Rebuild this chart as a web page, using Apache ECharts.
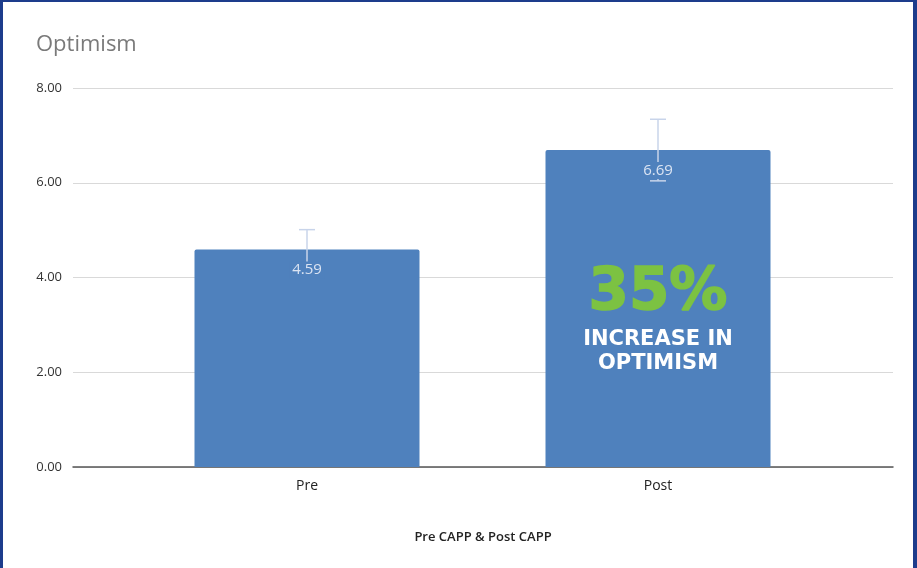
<!DOCTYPE html>
<html><head><meta charset="utf-8">
<script src="https://cdn.jsdelivr.net/npm/echarts@6/dist/echarts.min.js"></script>
<style>
html,body{margin:0;padding:0;background:#fff;}
#wrap{position:relative;width:917px;height:568px;}
#c{width:917px;height:568px;}
#frame{position:absolute;left:0;top:0;width:917px;height:568px;box-sizing:border-box;border-left:3px solid #1d3c8c;border-right:4px solid #1d3c8c;border-top:2px solid #1d3c8c;pointer-events:none;}
</style></head>
<body><div id="wrap"><div id="c"></div><div id="frame"></div></div>
<script>
const categories = ['Pre', 'Post'];
const values = [4.59, 6.69];
const errors = [0.42, 0.65];
const yTicks = { min: 0, max: 8, interval: 2 };
const titleText = 'Optimism';
const xAxisTitle = 'Pre CAPP & Post CAPP';
const callout = { category: 'Post', y: 3.15, big: '35%', line1: 'INCREASE IN', line2: 'OPTIMISM' };

const chart = echarts.init(document.getElementById('c'));
const font = '"Open Sans", "Noto Sans", sans-serif';
const calloutFont = '"DejaVu Sans", Verdana, sans-serif';
chart.setOption({
  animation: false,
  title: { text: titleText, left: 31, top: 29, textStyle: { fontFamily: font, fontSize: 22, fontWeight: 'normal', color: '#7a7a7a' } },
  grid: [
    { left: 73, right: 24, top: 88, bottom: 101 },
    { left: 131.5, right: 83.5, top: 88, bottom: 101 }
  ],
  xAxis: [
    { gridIndex: 0, type: 'value', min: 0, max: 1, show: true,
      axisLine: { show: true, onZero: false, lineStyle: { color: '#555', width: 1.5 } },
      axisTick: { show: false }, axisLabel: { show: false }, splitLine: { show: false },
      name: xAxisTitle, nameLocation: 'middle', nameGap: 64,
      nameTextStyle: { fontFamily: font, fontSize: 13, fontWeight: 600, color: '#222' } },
    { gridIndex: 1, type: 'category', data: categories,
      axisLine: { show: false }, axisTick: { show: false },
      axisLabel: { margin: 12, fontFamily: font, fontSize: 14, color: '#222' } }
  ],
  yAxis: [
    { gridIndex: 0, type: 'value', min: yTicks.min, max: yTicks.max, interval: yTicks.interval,
      axisLine: { show: false }, axisTick: { show: false },
      axisLabel: { margin: 11, fontFamily: font, fontSize: 13, color: '#333', formatter: v => v.toFixed(2) },
      splitLine: { lineStyle: { color: '#d9d9d9', width: 1 } } },
    { gridIndex: 1, type: 'value', min: yTicks.min, max: yTicks.max, interval: yTicks.interval, show: false, splitLine: { show: false } }
  ],
  series: [
    { type: 'bar', xAxisIndex: 1, yAxisIndex: 1, data: values, barWidth: 225,
      itemStyle: { color: '#4f81bd', borderRadius: [2, 2, 0, 0] },
      z: 2 },
    { type: 'custom', xAxisIndex: 1, yAxisIndex: 1, z: 3,
      data: values.map((v, i) => [i, v - errors[i], v + errors[i]]),
      renderItem: function (params, api) {
        const lo = api.coord([api.value(0), api.value(1)]);
        const hi = api.coord([api.value(0), api.value(2)]);
        const hw = 8;
        const st = { stroke: '#c8d4ea', lineWidth: 1.5 };
        return { type: 'group', children: [
          { type: 'line', shape: { x1: hi[0], y1: hi[1], x2: lo[0], y2: lo[1] }, style: st },
          { type: 'line', shape: { x1: hi[0] - hw, y1: hi[1], x2: hi[0] + hw, y2: hi[1] }, style: st },
          { type: 'line', shape: { x1: lo[0] - hw, y1: lo[1], x2: lo[0] + hw, y2: lo[1] }, style: st }
        ] };
      } },
    { type: 'bar', xAxisIndex: 1, yAxisIndex: 1, data: values, barWidth: 225, barGap: '-100%', z: 4,
      itemStyle: { color: 'rgba(0,0,0,0)' },
      label: { show: true, position: 'insideTop', distance: 12, fontFamily: font, fontSize: 15, color: '#dbe4f3',
        backgroundColor: '#4f81bd', padding: [1, 3, 1, 3], formatter: p => p.value.toFixed(2) },
      markPoint: {
        symbol: 'circle', symbolSize: 1, itemStyle: { color: 'rgba(0,0,0,0)' },
        data: [{ coord: [callout.category, callout.y], value: 0 }],
        label: { show: true, position: 'inside',
          formatter: '{a|' + callout.big + '}\n{b|' + callout.line1 + '}\n{b|' + callout.line2 + '}',
          rich: {
            a: { fontFamily: calloutFont, fontSize: 58, fontWeight: 'bold', color: '#7cc242', lineHeight: 68, align: 'center',
                 textBorderColor: '#7cc242', textBorderWidth: 1.5 },
            b: { fontFamily: calloutFont, fontSize: 21, fontWeight: 'bold', color: '#ffffff', lineHeight: 24, align: 'center' }
          } }
      } }
  ]
});
</script></body></html>
